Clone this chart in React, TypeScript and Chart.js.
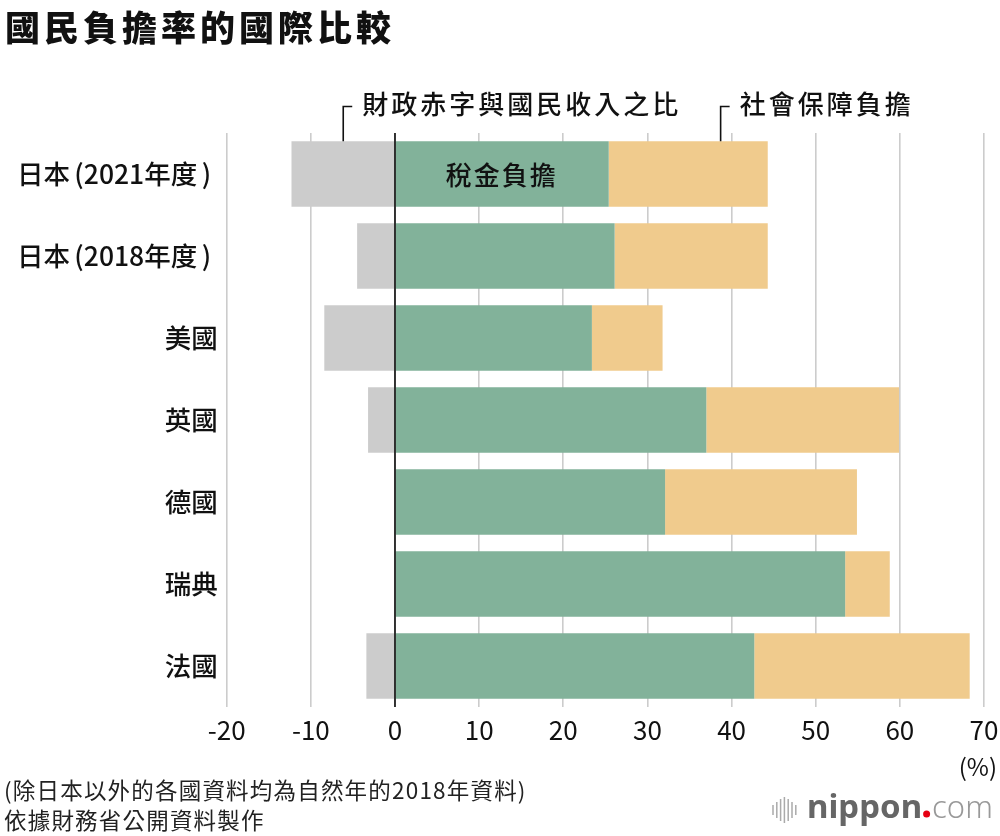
import { useEffect, useRef } from 'react';
import { Chart, registerables } from 'chart.js';

Chart.register(...registerables);

// categories (rows, top to bottom)
const countries = [
  '日本\u2006(2021年度\u2006)\u2005',
  '日本\u2006(2018年度\u2006)\u2005',
  '美國',
  '英國',
  '德國',
  '瑞典',
  '法國',
];
// % of national income
const deficitRatio = [-12.3, -4.5, -8.4, -3.2, null, null, -3.4];
const taxBurden = [25.4, 26.1, 23.4, 37.0, 32.1, 53.5, 42.7];
const socialBurden = [18.9, 18.2, 8.4, 22.9, 22.8, 5.3, 25.6];

const xTicks = [-20, -10, 0, 10, 20, 30, 40, 50, 60, 70];
const socialLabelAnchor = 38.7; // where the 社會保障負擔 leader line drops onto the first bar

const CJK = '"Noto Sans CJK TC", "Noto Sans", sans-serif';

const overlayPlugin = {
  id: 'overlay',
  afterDatasetsDraw(chart: any) {
    const { ctx, chartArea, scales } = chart;
    const x0 = scales.x.getPixelForValue(0);
    // zero line on top of the bars
    ctx.save();
    ctx.strokeStyle = '#000';
    ctx.lineWidth = 1.6;
    ctx.beginPath();
    ctx.moveTo(x0, chartArea.top);
    ctx.lineTo(x0, chartArea.bottom);
    ctx.stroke();
    ctx.restore();
  },
  afterDraw(chart: any) {
    const { ctx, scales } = chart;
    const x = scales.x;
    const bar = chart.getDatasetMeta(1).data[0];
    const barTop = bar.y - bar.height / 2;
    ctx.save();

    // title
    ctx.fillStyle = '#111';
    ctx.textBaseline = 'middle';
    ctx.textAlign = 'left';
    ctx.font = `900 35px ${CJK}`;
    (ctx as any).letterSpacing = '4px';
    ctx.fillText('國民負擔率的國際比較', 5, 28);

    // leader annotations
    const drawLeader = (value: number, text: string) => {
      const lx = x.getPixelForValue(value);
      const ly = 106.5;
      ctx.strokeStyle = '#111';
      ctx.lineWidth = 1.6;
      ctx.beginPath();
      ctx.moveTo(lx, barTop);
      ctx.lineTo(lx, ly);
      ctx.lineTo(lx + 9, ly);
      ctx.stroke();
      ctx.font = `500 26px ${CJK}`;
      (ctx as any).letterSpacing = '3px';
      ctx.fillStyle = '#111';
      ctx.fillText(text, lx + 19, 104);
    };
    drawLeader((deficitRatio[0] as number) / 2, '財政赤字與國民收入之比');
    drawLeader(socialLabelAnchor, '社會保障負擔');

    // label inside the first tax bar
    (ctx as any).letterSpacing = '2px';
    ctx.textAlign = 'center';
    ctx.font = `500 26px ${CJK}`;
    ctx.fillText('稅金負擔', (x.getPixelForValue(0) + x.getPixelForValue(taxBurden[0])) / 2, bar.y + 1);

    // unit
    (ctx as any).letterSpacing = '0px';
    ctx.textAlign = 'right';
    ctx.font = `24px ${CJK}`;
    ctx.fillText('(%)', 997, 767);

    // footnotes
    ctx.textAlign = 'left';
    ctx.font = `22.5px ${CJK}`;
    (ctx as any).letterSpacing = '1.2px';
    ctx.fillStyle = '#222';
    ctx.fillText('(除日本以外的各國資料均為自然年的2018年資料)', 4, 790);
    ctx.fillText('依據財務省公開資料製作', 4, 820);
    (ctx as any).letterSpacing = '0px';

    // nippon.com logo
    const bars = [10, 16, 22, 26, 22, 16, 10];
    ctx.strokeStyle = '#aaa';
    ctx.lineWidth = 1.5;
    bars.forEach((h, i) => {
      const bx = 773 + i * 3.8;
      ctx.beginPath();
      ctx.moveTo(bx, 810 - h / 2);
      ctx.lineTo(bx, 810 + h / 2);
      ctx.stroke();
    });
    ctx.textBaseline = 'alphabetic';
    ctx.font = 'bold 33px "Noto Sans", sans-serif';
    ctx.fillStyle = '#666';
    ctx.fillText('nippon', 807, 818);
    let px = 807 + ctx.measureText('nippon').width + 1;
    ctx.fillStyle = '#e60012';
    ctx.beginPath();
    ctx.arc(px + 3.5, 814, 3.5, 0, Math.PI * 2);
    ctx.fill();
    px += 9;
    ctx.font = '300 31px "Noto Sans", sans-serif';
    ctx.fillStyle = '#999';
    ctx.fillText('com', px, 818);

    ctx.restore();
  },
};

export default function App() {
  const canvasRef = useRef<HTMLCanvasElement>(null);
  const chartRef = useRef<Chart | null>(null);

  useEffect(() => {
    if (!canvasRef.current) return;
    if (chartRef.current) chartRef.current.destroy();

    chartRef.current = new Chart(canvasRef.current, {
      type: 'bar',
      data: {
        labels: countries,
        datasets: [
          { label: '財政赤字與國民收入之比', data: deficitRatio, backgroundColor: '#cccccc' },
          { label: '稅金負擔', data: taxBurden, backgroundColor: '#82b29a' },
          { label: '社會保障負擔', data: socialBurden, backgroundColor: '#f0cb8d' },
        ],
      },
      options: {
        indexAxis: 'y',
        responsive: false,
        animation: false,
        datasets: {
          bar: { barPercentage: 0.8, categoryPercentage: 1, borderWidth: 0 },
        },
        layout: { autoPadding: false, padding: { top: 133, right: 16, bottom: 89, left: 0 } },
        plugins: {
          legend: { display: false },
          tooltip: { enabled: false },
        },
        scales: {
          x: {
            stacked: true,
            min: -20,
            max: 70,
            afterBuildTicks: (scale: any) => {
              scale.ticks = xTicks.map((v) => ({ value: v }));
            },
            afterFit: (scale: any) => {
              scale.height = 40;
              scale.paddingLeft = 0;
              scale.paddingRight = 0;
            },
            grid: {
              color: (c: any) => (c.tick && c.tick.value === 0 ? 'rgba(0,0,0,0)' : '#cccccc'),
              lineWidth: 1.6,
              drawTicks: false,
            },
            border: { display: false },
            ticks: {
              padding: 8,
              color: '#111',
              maxRotation: 0,
              font: { family: CJK, size: 26 },
            },
          },
          y: {
            stacked: true,
            afterFit: (scale: any) => {
              scale.width = 226.7;
            },
            grid: { display: false, drawTicks: false },
            border: { display: false },
            ticks: {
              padding: 9,
              color: '#111',
              font: { family: CJK, size: 26.5, weight: '500' },
            },
          },
        },
      },
      plugins: [overlayPlugin],
    } as any);

    return () => {
      if (chartRef.current) {
        chartRef.current.destroy();
        chartRef.current = null;
      }
    };
  }, []);

  return (
    <div style={{ position: 'absolute', left: 0, top: 0, width: 1000, height: 836, background: '#fff' }}>
      <canvas ref={canvasRef} width={1000} height={836} style={{ width: 1000, height: 836 }} />
    </div>
  );
}
